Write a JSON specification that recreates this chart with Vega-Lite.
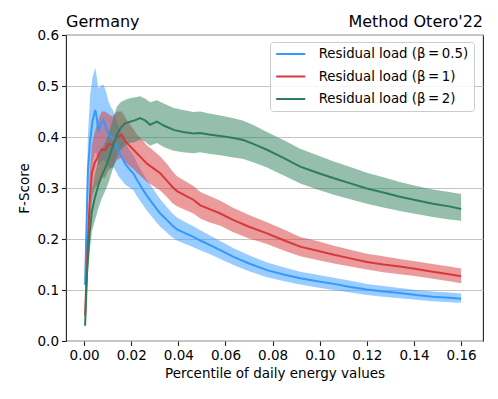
{
  "$schema": "https://vega.github.io/schema/vega-lite/v6.json",
  "width": 417,
  "height": 306,
  "autosize": {"type": "none"},
  "padding": {"left": 66, "top": 35, "right": 15, "bottom": 58},
  "background": "white",
  "config": {
    "font": "DejaVu Sans",
    "view": {"stroke": "#222222", "strokeWidth": 1.1},
    "axis": {
      "labelFont": "DejaVu Sans",
      "titleFont": "DejaVu Sans",
      "labelFontSize": 13.5,
      "titleFontSize": 13.5,
      "titleFontWeight": "normal",
      "labelColor": "#000000",
      "titleColor": "#000000",
      "tickColor": "#222222",
      "tickSize": 4.5,
      "tickWidth": 1.1,
      "domain": false
    }
  },
  "resolve": {"scale": {"color": "independent"}},
  "data": {
    "values": [
      {"s": "0.5", "x": 0.0004, "y": 0.11, "lo": 0.095, "hi": 0.13},
      {"s": "0.5", "x": 0.001, "y": 0.22, "lo": 0.17, "hi": 0.27},
      {"s": "0.5", "x": 0.0016, "y": 0.335, "lo": 0.27, "hi": 0.4},
      {"s": "0.5", "x": 0.0025, "y": 0.39, "lo": 0.31, "hi": 0.48},
      {"s": "0.5", "x": 0.0035, "y": 0.43, "lo": 0.35, "hi": 0.515},
      {"s": "0.5", "x": 0.0047, "y": 0.453, "lo": 0.37, "hi": 0.536},
      {"s": "0.5", "x": 0.0053, "y": 0.44, "lo": 0.365, "hi": 0.52},
      {"s": "0.5", "x": 0.006, "y": 0.41, "lo": 0.345, "hi": 0.495},
      {"s": "0.5", "x": 0.007, "y": 0.425, "lo": 0.35, "hi": 0.5},
      {"s": "0.5", "x": 0.0082, "y": 0.433, "lo": 0.355, "hi": 0.503},
      {"s": "0.5", "x": 0.0092, "y": 0.42, "lo": 0.35, "hi": 0.49},
      {"s": "0.5", "x": 0.0103, "y": 0.404, "lo": 0.34, "hi": 0.47},
      {"s": "0.5", "x": 0.0115, "y": 0.4, "lo": 0.34, "hi": 0.458},
      {"s": "0.5", "x": 0.0125, "y": 0.397, "lo": 0.34, "hi": 0.45},
      {"s": "0.5", "x": 0.0135, "y": 0.385, "lo": 0.333, "hi": 0.437},
      {"s": "0.5", "x": 0.0146, "y": 0.371, "lo": 0.323, "hi": 0.42},
      {"s": "0.5", "x": 0.016, "y": 0.36, "lo": 0.315, "hi": 0.405},
      {"s": "0.5", "x": 0.0174, "y": 0.347, "lo": 0.307, "hi": 0.39},
      {"s": "0.5", "x": 0.019, "y": 0.338, "lo": 0.302, "hi": 0.376},
      {"s": "0.5", "x": 0.021, "y": 0.328, "lo": 0.295, "hi": 0.364},
      {"s": "0.5", "x": 0.0224, "y": 0.316, "lo": 0.284, "hi": 0.35},
      {"s": "0.5", "x": 0.0245, "y": 0.3, "lo": 0.27, "hi": 0.332},
      {"s": "0.5", "x": 0.0266, "y": 0.285, "lo": 0.256, "hi": 0.316},
      {"s": "0.5", "x": 0.029, "y": 0.27, "lo": 0.242, "hi": 0.3},
      {"s": "0.5", "x": 0.0323, "y": 0.25, "lo": 0.224, "hi": 0.278},
      {"s": "0.5", "x": 0.035, "y": 0.238, "lo": 0.213, "hi": 0.263},
      {"s": "0.5", "x": 0.0375, "y": 0.226, "lo": 0.203, "hi": 0.25},
      {"s": "0.5", "x": 0.0394, "y": 0.219, "lo": 0.197, "hi": 0.242},
      {"s": "0.5", "x": 0.043, "y": 0.211, "lo": 0.19, "hi": 0.233},
      {"s": "0.5", "x": 0.0464, "y": 0.204, "lo": 0.184, "hi": 0.225},
      {"s": "0.5", "x": 0.0493, "y": 0.197, "lo": 0.178, "hi": 0.217},
      {"s": "0.5", "x": 0.053, "y": 0.189, "lo": 0.171, "hi": 0.208},
      {"s": "0.5", "x": 0.0578, "y": 0.178, "lo": 0.161, "hi": 0.196},
      {"s": "0.5", "x": 0.0634, "y": 0.165, "lo": 0.149, "hi": 0.182},
      {"s": "0.5", "x": 0.07, "y": 0.152, "lo": 0.137, "hi": 0.168},
      {"s": "0.5", "x": 0.0776, "y": 0.139, "lo": 0.125, "hi": 0.154},
      {"s": "0.5", "x": 0.085, "y": 0.13, "lo": 0.117, "hi": 0.144},
      {"s": "0.5", "x": 0.0917, "y": 0.123, "lo": 0.111, "hi": 0.136},
      {"s": "0.5", "x": 0.099, "y": 0.117, "lo": 0.105, "hi": 0.13},
      {"s": "0.5", "x": 0.106, "y": 0.112, "lo": 0.1, "hi": 0.124},
      {"s": "0.5", "x": 0.113, "y": 0.106, "lo": 0.095, "hi": 0.118},
      {"s": "0.5", "x": 0.12, "y": 0.101, "lo": 0.09, "hi": 0.112},
      {"s": "0.5", "x": 0.127, "y": 0.097, "lo": 0.087, "hi": 0.108},
      {"s": "0.5", "x": 0.134, "y": 0.094, "lo": 0.084, "hi": 0.104},
      {"s": "0.5", "x": 0.141, "y": 0.09, "lo": 0.081, "hi": 0.1},
      {"s": "0.5", "x": 0.148, "y": 0.087, "lo": 0.078, "hi": 0.097},
      {"s": "0.5", "x": 0.155, "y": 0.085, "lo": 0.076, "hi": 0.095},
      {"s": "0.5", "x": 0.16, "y": 0.083, "lo": 0.075, "hi": 0.093},

      {"s": "1", "x": 0.0004, "y": 0.05, "lo": 0.042, "hi": 0.06},
      {"s": "1", "x": 0.0012, "y": 0.15, "lo": 0.12, "hi": 0.18},
      {"s": "1", "x": 0.0023, "y": 0.27, "lo": 0.22, "hi": 0.32},
      {"s": "1", "x": 0.0033, "y": 0.33, "lo": 0.28, "hi": 0.385},
      {"s": "1", "x": 0.0045, "y": 0.35, "lo": 0.3, "hi": 0.41},
      {"s": "1", "x": 0.0055, "y": 0.358, "lo": 0.305, "hi": 0.425},
      {"s": "1", "x": 0.0065, "y": 0.368, "lo": 0.31, "hi": 0.44},
      {"s": "1", "x": 0.0075, "y": 0.376, "lo": 0.32, "hi": 0.45},
      {"s": "1", "x": 0.0089, "y": 0.374, "lo": 0.32, "hi": 0.45},
      {"s": "1", "x": 0.0103, "y": 0.386, "lo": 0.335, "hi": 0.445},
      {"s": "1", "x": 0.012, "y": 0.385, "lo": 0.34, "hi": 0.44},
      {"s": "1", "x": 0.0139, "y": 0.4, "lo": 0.355, "hi": 0.45},
      {"s": "1", "x": 0.016, "y": 0.404, "lo": 0.36, "hi": 0.45},
      {"s": "1", "x": 0.0175, "y": 0.392, "lo": 0.35, "hi": 0.438},
      {"s": "1", "x": 0.0188, "y": 0.385, "lo": 0.345, "hi": 0.428},
      {"s": "1", "x": 0.021, "y": 0.375, "lo": 0.337, "hi": 0.415},
      {"s": "1", "x": 0.0224, "y": 0.368, "lo": 0.33, "hi": 0.405},
      {"s": "1", "x": 0.0245, "y": 0.358, "lo": 0.321, "hi": 0.395},
      {"s": "1", "x": 0.0266, "y": 0.348, "lo": 0.312, "hi": 0.384},
      {"s": "1", "x": 0.029, "y": 0.34, "lo": 0.305, "hi": 0.375},
      {"s": "1", "x": 0.0323, "y": 0.329, "lo": 0.295, "hi": 0.362},
      {"s": "1", "x": 0.035, "y": 0.315, "lo": 0.283, "hi": 0.348},
      {"s": "1", "x": 0.0375, "y": 0.302, "lo": 0.27, "hi": 0.333},
      {"s": "1", "x": 0.0394, "y": 0.294, "lo": 0.264, "hi": 0.323},
      {"s": "1", "x": 0.043, "y": 0.285, "lo": 0.257, "hi": 0.313},
      {"s": "1", "x": 0.0464, "y": 0.277, "lo": 0.25, "hi": 0.304},
      {"s": "1", "x": 0.0493, "y": 0.266, "lo": 0.24, "hi": 0.292},
      {"s": "1", "x": 0.053, "y": 0.259, "lo": 0.233, "hi": 0.285},
      {"s": "1", "x": 0.0578, "y": 0.25, "lo": 0.226, "hi": 0.275},
      {"s": "1", "x": 0.0634, "y": 0.237, "lo": 0.213, "hi": 0.261},
      {"s": "1", "x": 0.07, "y": 0.224, "lo": 0.201, "hi": 0.247},
      {"s": "1", "x": 0.0776, "y": 0.211, "lo": 0.19, "hi": 0.233},
      {"s": "1", "x": 0.085, "y": 0.197, "lo": 0.177, "hi": 0.218},
      {"s": "1", "x": 0.0917, "y": 0.185, "lo": 0.166, "hi": 0.204},
      {"s": "1", "x": 0.099, "y": 0.177, "lo": 0.159, "hi": 0.196},
      {"s": "1", "x": 0.106, "y": 0.169, "lo": 0.152, "hi": 0.187},
      {"s": "1", "x": 0.113, "y": 0.162, "lo": 0.146, "hi": 0.179},
      {"s": "1", "x": 0.12, "y": 0.155, "lo": 0.14, "hi": 0.171},
      {"s": "1", "x": 0.127, "y": 0.15, "lo": 0.135, "hi": 0.166},
      {"s": "1", "x": 0.134, "y": 0.146, "lo": 0.131, "hi": 0.161},
      {"s": "1", "x": 0.141, "y": 0.141, "lo": 0.127, "hi": 0.156},
      {"s": "1", "x": 0.148, "y": 0.136, "lo": 0.122, "hi": 0.151},
      {"s": "1", "x": 0.155, "y": 0.131, "lo": 0.117, "hi": 0.146},
      {"s": "1", "x": 0.16, "y": 0.127, "lo": 0.113, "hi": 0.142},

      {"s": "2", "x": 0.0004, "y": 0.03, "lo": 0.025, "hi": 0.036},
      {"s": "2", "x": 0.0013, "y": 0.14, "lo": 0.115, "hi": 0.165},
      {"s": "2", "x": 0.0023, "y": 0.21, "lo": 0.175, "hi": 0.25},
      {"s": "2", "x": 0.0033, "y": 0.255, "lo": 0.215, "hi": 0.295},
      {"s": "2", "x": 0.0045, "y": 0.28, "lo": 0.235, "hi": 0.325},
      {"s": "2", "x": 0.006, "y": 0.305, "lo": 0.26, "hi": 0.355},
      {"s": "2", "x": 0.0075, "y": 0.325, "lo": 0.28, "hi": 0.375},
      {"s": "2", "x": 0.009, "y": 0.34, "lo": 0.295, "hi": 0.39},
      {"s": "2", "x": 0.0103, "y": 0.355, "lo": 0.31, "hi": 0.405},
      {"s": "2", "x": 0.012, "y": 0.38, "lo": 0.335, "hi": 0.432},
      {"s": "2", "x": 0.0139, "y": 0.404, "lo": 0.36, "hi": 0.46},
      {"s": "2", "x": 0.0155, "y": 0.418, "lo": 0.375, "hi": 0.468},
      {"s": "2", "x": 0.0174, "y": 0.427, "lo": 0.384, "hi": 0.473},
      {"s": "2", "x": 0.0195, "y": 0.43, "lo": 0.388, "hi": 0.476},
      {"s": "2", "x": 0.0217, "y": 0.433, "lo": 0.39, "hi": 0.478},
      {"s": "2", "x": 0.0238, "y": 0.437, "lo": 0.395, "hi": 0.48},
      {"s": "2", "x": 0.026, "y": 0.432, "lo": 0.39, "hi": 0.475},
      {"s": "2", "x": 0.028, "y": 0.424, "lo": 0.383, "hi": 0.468},
      {"s": "2", "x": 0.0309, "y": 0.43, "lo": 0.388, "hi": 0.472},
      {"s": "2", "x": 0.034, "y": 0.422, "lo": 0.38, "hi": 0.465},
      {"s": "2", "x": 0.038, "y": 0.414, "lo": 0.373, "hi": 0.457},
      {"s": "2", "x": 0.042, "y": 0.41, "lo": 0.37, "hi": 0.453},
      {"s": "2", "x": 0.0464, "y": 0.407, "lo": 0.368, "hi": 0.449},
      {"s": "2", "x": 0.0493, "y": 0.408, "lo": 0.37, "hi": 0.45},
      {"s": "2", "x": 0.053, "y": 0.405, "lo": 0.367, "hi": 0.446},
      {"s": "2", "x": 0.0578, "y": 0.402, "lo": 0.364, "hi": 0.442},
      {"s": "2", "x": 0.0634, "y": 0.398, "lo": 0.36, "hi": 0.437},
      {"s": "2", "x": 0.0676, "y": 0.394, "lo": 0.357, "hi": 0.432},
      {"s": "2", "x": 0.072, "y": 0.386, "lo": 0.35, "hi": 0.423},
      {"s": "2", "x": 0.0776, "y": 0.375, "lo": 0.34, "hi": 0.41},
      {"s": "2", "x": 0.085, "y": 0.358, "lo": 0.324, "hi": 0.393},
      {"s": "2", "x": 0.0917, "y": 0.342, "lo": 0.309, "hi": 0.377},
      {"s": "2", "x": 0.099, "y": 0.33, "lo": 0.297, "hi": 0.364},
      {"s": "2", "x": 0.106, "y": 0.319, "lo": 0.287, "hi": 0.352},
      {"s": "2", "x": 0.113, "y": 0.309, "lo": 0.278, "hi": 0.341},
      {"s": "2", "x": 0.12, "y": 0.299, "lo": 0.269, "hi": 0.33},
      {"s": "2", "x": 0.127, "y": 0.291, "lo": 0.262, "hi": 0.321},
      {"s": "2", "x": 0.134, "y": 0.283, "lo": 0.255, "hi": 0.312},
      {"s": "2", "x": 0.141, "y": 0.276, "lo": 0.249, "hi": 0.304},
      {"s": "2", "x": 0.148, "y": 0.269, "lo": 0.243, "hi": 0.297},
      {"s": "2", "x": 0.155, "y": 0.264, "lo": 0.238, "hi": 0.292},
      {"s": "2", "x": 0.16, "y": 0.259, "lo": 0.236, "hi": 0.288}
    ]
  },
  "layer": [
    {
      "mark": {"type": "area", "opacity": 0.5},
      "encoding": {
        "x": {
          "field": "x",
          "type": "quantitative",
          "scale": {"domain": [-0.0077, 0.1693], "nice": false, "zero": false},
          "axis": {
            "values": [0, 0.02, 0.04, 0.06, 0.08, 0.1, 0.12, 0.14, 0.16],
            "format": ".2f",
            "title": "Percentile of daily energy values",
            "grid": false,
            "labelPadding": 3,
            "titlePadding": 4
          }
        },
        "y": {
          "field": "lo",
          "type": "quantitative",
          "stack": null,
          "scale": {"domain": [0, 0.6], "nice": false},
          "axis": {
            "values": [0, 0.1, 0.2, 0.3, 0.4, 0.5, 0.6],
            "format": ".1f",
            "title": "F-Score",
            "grid": true,
            "gridColor": "#c4c4c4",
            "gridWidth": 1.2,
            "labelPadding": 3,
            "titlePadding": 6
          }
        },
        "y2": {"field": "hi"},
        "color": {
          "field": "s",
          "type": "nominal",
          "scale": {"domain": ["0.5", "1", "2"], "range": ["#3399ff", "#d9383a", "#2e7d5b"]},
          "legend": null
        }
      }
    },
    {
      "mark": {"type": "line", "strokeWidth": 2},
      "encoding": {
        "x": {"field": "x", "type": "quantitative"},
        "y": {"field": "y", "type": "quantitative"},
        "color": {
          "field": "s",
          "type": "nominal",
          "scale": {"domain": ["0.5", "1", "2"], "range": ["#3399ff", "#d9383a", "#2e7d5b"]},
          "legend": {
            "title": null,
            "orient": "none",
            "legendX": 204,
            "legendY": 7,
            "labelExpr": "'Residual load (β\u2009=\u2009' + datum.label + ')'",
            "labelFontSize": 13.3,
            "labelFont": "DejaVu Sans",
            "labelColor": "#000000",
            "fillColor": "rgba(255,255,255,0.85)",
            "strokeColor": "#cccccc",
            "cornerRadius": 3,
            "padding": 5,
            "symbolType": "M-2.42,0H2.42",
            "symbolSize": 144,
            "symbolStrokeWidth": 2,
            "symbolOffset": 8.7,
            "labelOffset": 21,
            "rowPadding": 8.5
          }
        }
      }
    },
    {
      "data": {"values": [{"t": "Method Otero'22"}]},
      "mark": {"type": "text", "align": "right", "baseline": "alphabetic", "fontSize": 16, "font": "DejaVu Sans", "color": "#000000", "dy": -8},
      "encoding": {
        "text": {"field": "t"},
        "x": {"datum": 0.1693, "type": "quantitative"},
        "y": {"datum": 0.6, "type": "quantitative"}
      }
    },
    {
      "data": {"values": [{"t": "Germany"}]},
      "mark": {"type": "text", "align": "left", "baseline": "alphabetic", "fontSize": 16, "font": "DejaVu Sans", "color": "#000000", "dy": -8},
      "encoding": {
        "text": {"field": "t"},
        "x": {"datum": -0.0077, "type": "quantitative"},
        "y": {"datum": 0.6, "type": "quantitative"}
      }
    }
  ]
}
